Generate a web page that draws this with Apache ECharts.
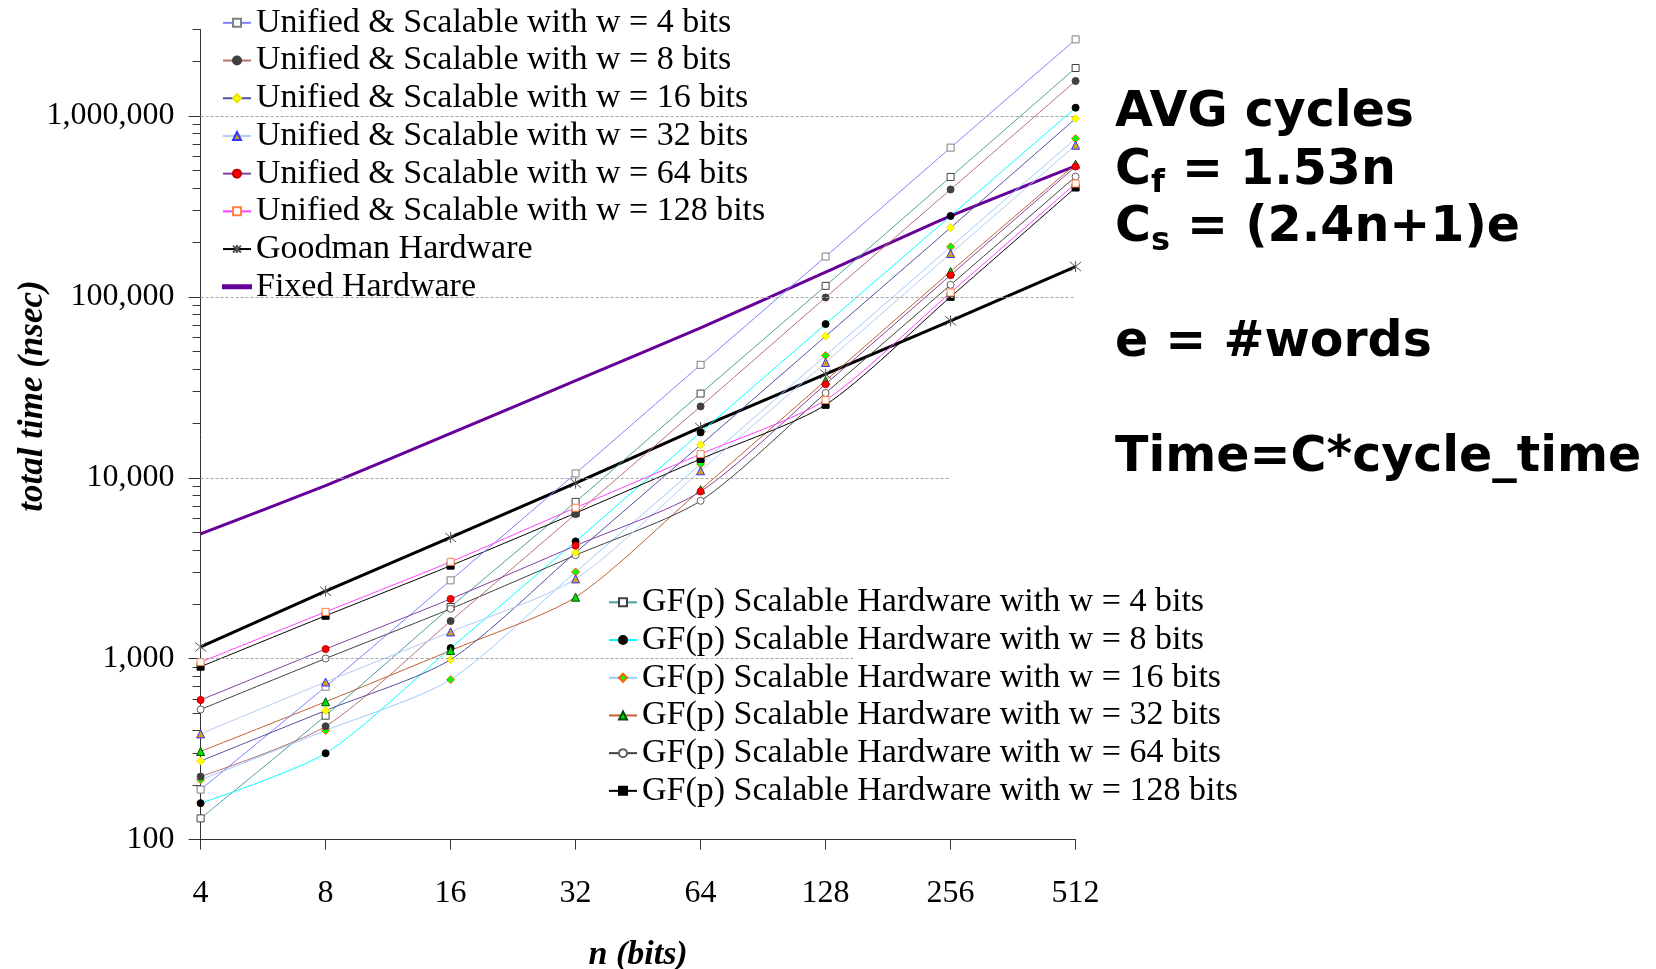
<!DOCTYPE html>
<html>
<head>
<meta charset="utf-8">
<title>total time vs n</title>
<script src="https://cdn.jsdelivr.net/npm/echarts@6/dist/echarts.min.js"></script>
<style>
  html, body { margin: 0; padding: 0; background: #fff; }
  #chart { width: 1656px; height: 969px; }
</style>
</head>
<body>
<div id="chart"></div>
<script>
// operand size n (bits)
const nValues = [4, 8, 16, 32, 64, 128, 256, 512]
const yTickLabels = [100, 1000, 10000, 100000, 1000000]

// Unified & Scalable, per word size w
const unified4 = [189, 700, 2710, 10570, 42100, 167000, 668000, 2650000]
const unified8 = [223, 423, 1614, 6300, 24800, 99200, 392000, 1560000]
const unified16 = [272, 517, 989, 3857, 15200, 60600, 241000, 967000]
const unified32 = [384, 743, 1406, 2760, 10930, 43400, 173500, 689000]
const unified64 = [591, 1130, 2140, 4215, 8400, 32900, 131800, 525000]
const unified128 = [957, 1814, 3430, 6830, 13520, 26900, 105600, 423000]

const goodman = [1161, 2360, 4677, 9330, 18960, 37400, 73700, 147000]
const fixedHw = [4900, 9040, 17600, 34400, 67400, 137000, 280000, 530000]

// GF(p) Scalable Hardware, per word size w
const gf4 = [131, 484, 1930, 7360, 29200, 115000, 460000, 1840000]
const gf8 = [159, 300, 1144, 4450, 17800, 70700, 280000, 1110000]
const gf16 = [214, 401, 766, 3017, 11900, 47400, 189000, 749000]
const gf32 = [307, 578, 1110, 2187, 8590, 34400, 138000, 541000]
const gf64 = [524, 1002, 1887, 3735, 7460, 29400, 116500, 462000]
const gf128 = [903, 1726, 3267, 6380, 12700, 25300, 100000, 402000]

const SERIF = "'Liberation Serif', 'Times New Roman', serif"
const ASTERISK = 'path://M0,0L10,10M10,0L0,10M5,-1L5,11'

// minor ticks 2..9 in every decade
const minorTicks = []
yTickLabels.forEach(d => {
  for (let m = 2; m <= 9; m++) {
    if (d * m <= 3000000) minorTicks.push(d * m)
  }
})

function pairs (vals) {
  return nValues.map((n, i) => [n, vals[i]])
}

function line (name, vals, lineColor, symbol, fill, border, opts) {
  opts = opts || {}
  return {
    name: name,
    type: 'line',
    data: pairs(vals),
    smooth: opts.smooth === undefined ? 0.25 : opts.smooth,
    symbol: symbol,
    symbolSize: opts.size || 7,
    lineStyle: { color: lineColor, width: opts.width || 1 },
    itemStyle: { color: fill, borderColor: border, borderWidth: 1 },
    emphasis: { disabled: true },
    animation: false
  }
}

const unifiedNames = [4, 8, 16, 32, 64, 128].map(w => 'Unified & Scalable with w = ' + w + ' bits')
const gfNames = [4, 8, 16, 32, 64, 128].map(w => 'GF(p) Scalable Hardware with w = ' + w + ' bits')

const chart = echarts.init(document.getElementById('chart'))

const legendBase = {
  orient: 'vertical',
  padding: 0,
  itemWidth: 28,
  itemHeight: 10,
  itemGap: 0,
  selectedMode: false,
  textStyle: { fontFamily: SERIF, fontSize: 34, lineHeight: 37.7, color: '#000' }
}

const option = {
  backgroundColor: '#fff',
  animation: false,
  grid: { left: 200.6, top: 29.6, right: 580.4, bottom: 129.4, outerBoundsMode: 'none' },
  legend: [
    Object.assign({}, legendBase, {
      left: 222,
      top: 4,
      data: unifiedNames.concat([
        'Goodman Hardware',
        { name: 'Fixed Hardware', icon: 'path://M0,0H28V3H0Z' }
      ])
    }),
    Object.assign({}, legendBase, {
      left: 608,
      top: 583.5,
      data: gfNames
    })
  ],
  xAxis: {
    type: 'log',
    logBase: 2,
    min: 4,
    max: 512,
    name: 'n (bits)',
    nameLocation: 'middle',
    nameGap: 99,
    nameTextStyle: { fontFamily: SERIF, fontSize: 34, fontWeight: 'bold', fontStyle: 'italic', color: '#000' },
    axisLine: { show: true, lineStyle: { color: '#333', width: 1 } },
    axisTick: { show: true, length: 10, customValues: nValues, lineStyle: { color: '#333' } },
    axisLabel: {
      customValues: nValues,
      margin: 38,
      fontFamily: SERIF,
      fontSize: 32,
      color: '#000',
      formatter: v => String(Math.round(v))
    },
    splitLine: { show: false },
    minorTick: { show: false }
  },
  yAxis: [
    {
      type: 'log',
      logBase: 10,
      min: 100,
      max: 3000000,
      position: 'left',
      axisLine: { show: true, lineStyle: { color: '#333', width: 1 } },
      axisTick: { show: true, length: 12, customValues: yTickLabels, lineStyle: { color: '#333' } },
      axisLabel: {
        customValues: yTickLabels,
        margin: 26,
        fontFamily: SERIF,
        fontSize: 32,
        color: '#000',
        formatter: v => Math.round(v).toLocaleString('en-US')
      },
      splitLine: { show: false }
    },
    {
      // minor ticks only, on the same left edge
      type: 'log',
      logBase: 10,
      min: 100,
      max: 3000000,
      position: 'left',
      offset: 0,
      axisLine: { show: false },
      axisTick: { show: true, length: 8, customValues: minorTicks, lineStyle: { color: '#333' } },
      axisLabel: { show: false },
      splitLine: { show: false }
    }
  ],
  series: [
    {
      name: 'gridlines',
      type: 'line',
      data: [],
      z: 1,
      silent: true,
      markLine: {
        silent: true,
        symbol: ['none', 'none'],
        label: { show: false },
        emphasis: { disabled: true },
        lineStyle: { color: '#a6a6a6', type: [3, 2], width: 1 },
        data: [
          [{ coord: [4, 1000000] }, { coord: [512, 1000000] }],
          [{ coord: [4, 100000] }, { coord: [512, 100000] }],
          [{ coord: [4, 10000] }, { coord: [256, 10000] }],
          [{ coord: [4, 1000] }, { coord: [149, 1000] }]
        ]
      }
    },
    line('Fixed Hardware', fixedHw, '#660099', 'none', '#660099', '#660099', { width: 3, smooth: 0.15 }),
    line('Goodman Hardware', goodman, '#000', ASTERISK, 'none', '#555', { width: 3, size: 11, smooth: false }),
    line(gfNames[0], gf4, '#4d9e9e', 'rect', '#fff', '#404040'),
    line(gfNames[1], gf8, '#00ffff', 'circle', '#000', '#000'),
    line(gfNames[2], gf16, '#99ccff', 'diamond', '#00ff00', '#ff6000', { size: 8 }),
    line(gfNames[3], gf32, '#c06030', 'triangle', '#00e000', '#005000', { size: 8 }),
    line(gfNames[4], gf64, '#404040', 'circle', '#fff', '#606060'),
    line(gfNames[5], gf128, '#000', 'rect', '#000', '#000'),
    line(unifiedNames[0], unified4, '#8080ff', 'rect', '#fff', '#7f7f7f'),
    line(unifiedNames[1], unified8, '#b97070', 'circle', '#404040', '#404040'),
    line(unifiedNames[2], unified16, '#5050a0', 'diamond', '#ffff00', '#e6e600', { size: 8 }),
    line(unifiedNames[3], unified32, '#b4ccf4', 'triangle', '#d4a017', '#3333ff', { size: 8 }),
    line(unifiedNames[4], unified64, '#8040a0', 'circle', '#ff0000', '#c00000'),
    line(unifiedNames[5], unified128, '#ff40ff', 'rect', '#fff', '#ff8040')
  ],
  graphic: [
    {
      type: 'text',
      x: 33,
      y: 396,
      rotation: Math.PI / 2,
      style: {
        text: 'total time (nsec)',
        fontFamily: SERIF,
        fontSize: 35,
        fontWeight: 'bold',
        fontStyle: 'italic',
        fill: '#000',
        align: 'center',
        verticalAlign: 'middle'
      }
    },
    {
      type: 'text',
      x: 1115,
      y: 85,
      style: {
        text: [
          '{b|AVG cycles}',
          '{b|C}{sub|f}{b| = 1.53n}',
          '{b|C}{sub|s}{b| = (2.4n+1)e}',
          '{b| }',
          '{b|e = #words}',
          '{b| }',
          '{b|Time=C*cycle_time}'
        ].join('\n'),
        align: 'left',
        verticalAlign: 'top',
        rich: {
          b: { fontFamily: 'DejaVu Sans', fontWeight: 'bold', fontSize: 49, lineHeight: 57.5, fill: '#000' },
          sub: { fontFamily: 'DejaVu Sans', fontWeight: 'bold', fontSize: 32, lineHeight: 28, verticalAlign: 'bottom', fill: '#000' }
        }
      }
    }
  ]
}

chart.setOption(option)
</script>
</body>
</html>
